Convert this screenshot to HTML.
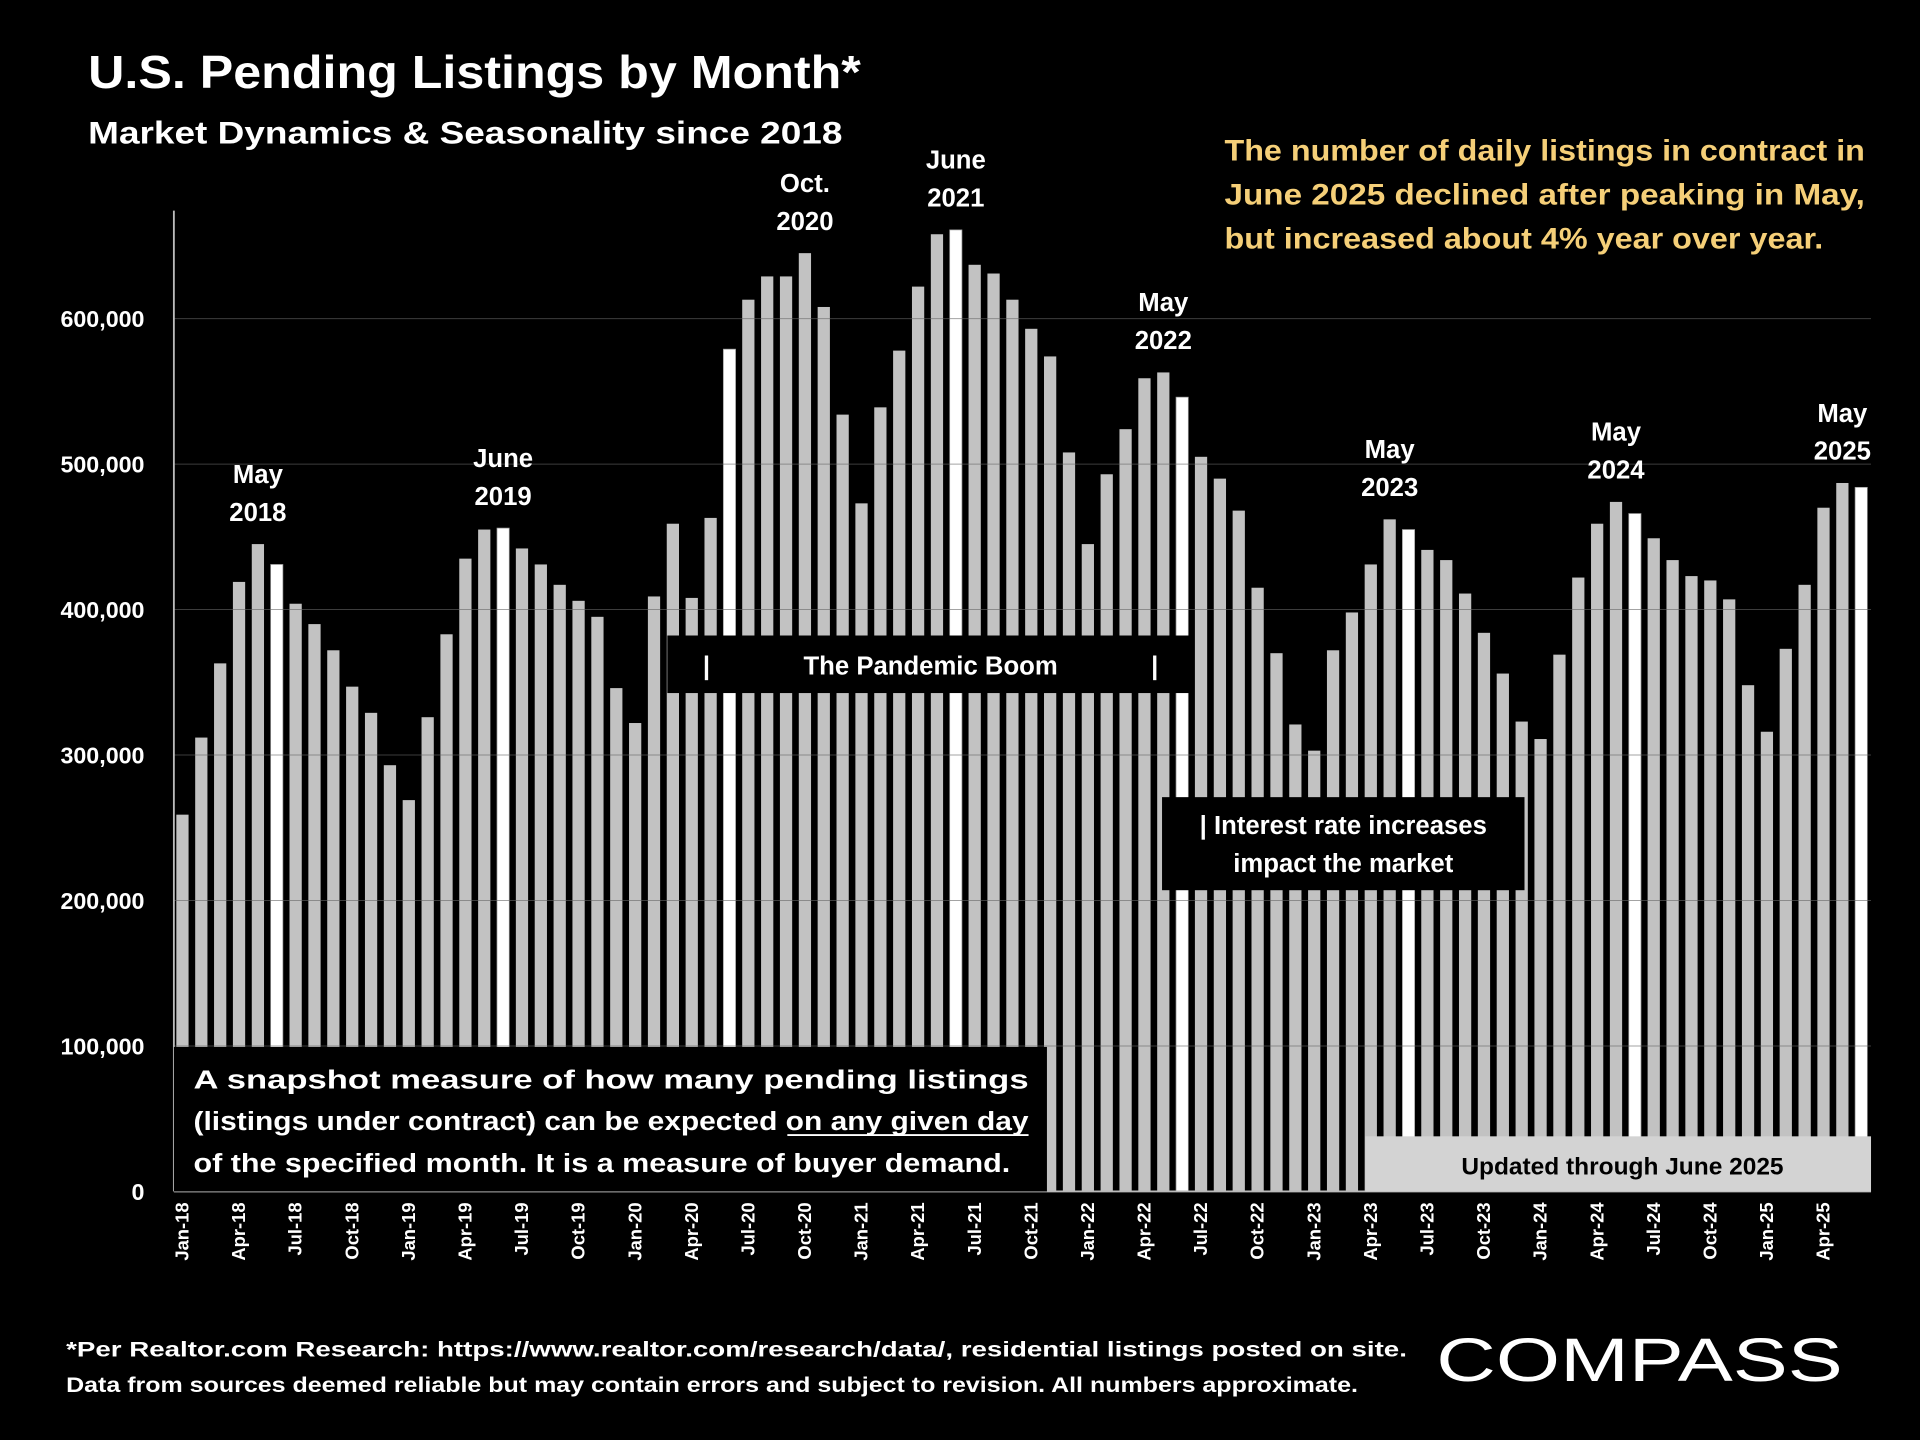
<!DOCTYPE html>
<html><head><meta charset="utf-8"><style>
html,body{margin:0;padding:0;background:#000;}
svg{display:block;font-family:"Liberation Sans",sans-serif;font-weight:bold;}
</style></head><body>
<svg id="chart" width="1920" height="1440" viewBox="0 0 1568 1176" xmlns="http://www.w3.org/2000/svg">
<rect width="1568" height="1176" fill="#000"/>
<text x="72" y="72" fill="#fff" font-size="38" textLength="631" lengthAdjust="spacingAndGlyphs">U.S. Pending Listings by Month*</text>
<text x="72" y="117" fill="#fff" font-size="26" textLength="616" lengthAdjust="spacingAndGlyphs">Market Dynamics &amp; Seasonality since 2018</text>
<g fill="#f5cf78" font-size="24">
<text x="1000" y="131" textLength="523" lengthAdjust="spacingAndGlyphs">The number of daily listings in contract in</text>
<text x="1000" y="167" textLength="523" lengthAdjust="spacingAndGlyphs">June 2025 declined after peaking in May,</text>
<text x="1000" y="203" textLength="489" lengthAdjust="spacingAndGlyphs">but increased about 4% year over year.</text>
</g>
<g id="bars"></g><g id="grid"></g><g id="ylabels"></g><g id="xlabels"></g>
<line x1="142" y1="172" x2="142" y2="973" stroke="#bbb" stroke-width="1.5"/>
<line x1="142" y1="973" x2="1528" y2="973" stroke="#bbb" stroke-width="1.5"/>
<g>
<rect x="545" y="519" width="428" height="47" fill="#000"/>
<text x="760" y="551" fill="#fff" font-size="21" text-anchor="middle">The Pandemic Boom</text>
<text x="577" y="551" fill="#fff" font-size="21" text-anchor="middle">|</text>
<text x="943" y="551" fill="#fff" font-size="21" text-anchor="middle">|</text>
</g>
<g>
<rect x="949" y="651" width="296" height="76" fill="#000"/>
<text x="1097" y="681" fill="#fff" font-size="21" text-anchor="middle">| Interest rate increases</text>
<text x="1097" y="712" fill="#fff" font-size="21" text-anchor="middle">impact the market</text>
</g>
<g>
<rect x="1115" y="928" width="413" height="45" fill="#d3d3d3"/>
<text x="1325" y="959" fill="#000" font-size="20" text-anchor="middle">Updated through June 2025</text>
</g>
<g>
<rect x="142" y="855" width="713" height="118" fill="#000"/>
<text x="158" y="889" fill="#fff" font-size="21" textLength="682" lengthAdjust="spacingAndGlyphs">A snapshot measure of how many pending listings</text>
<text x="158" y="923" fill="#fff" font-size="21" textLength="682" lengthAdjust="spacingAndGlyphs">(listings under contract) can be expected on any given day</text>
<line x1="643" y1="927" x2="840" y2="927" stroke="#fff" stroke-width="1.5"/>
<text x="158" y="957" fill="#fff" font-size="21" textLength="667" lengthAdjust="spacingAndGlyphs">of the specified month. It is a measure of buyer demand.</text>
</g>
<g id="annots" fill="#fff" font-size="21" text-anchor="middle"></g>
<g fill="#fff" font-size="17">
<text x="54" y="1108" textLength="1095" lengthAdjust="spacingAndGlyphs">*Per Realtor.com Research:  https://www.realtor.com/research/data/, residential listings posted on site.</text>
<text x="54" y="1137" textLength="1055" lengthAdjust="spacingAndGlyphs">Data from sources deemed reliable but may contain errors and subject to revision. All numbers approximate.</text>
</g>
<text x="1173" y="1128" fill="#fff" font-size="50" font-weight="normal" textLength="332" lengthAdjust="spacingAndGlyphs">COMPASS</text>
</svg>
<script>
const months = ["Jan","Feb","Mar","Apr","May","Jun","Jul","Aug","Sep","Oct","Nov","Dec"];
const values = [259,312,363,419,445,431,404,390,372,347,329,293,
269,326,383,435,455,456,442,431,417,406,395,346,
322,409,459,408,463,579,613,629,629,645,608,534,
473,539,578,622,658,661,637,631,613,593,574,508,
445,493,524,559,563,546,505,490,468,415,370,321,
303,372,398,431,462,455,441,434,411,384,356,323,
311,369,422,459,474,466,449,434,423,420,407,348,
316,373,417,470,487,484];
const yTicks = [0,100,200,300,400,500,600];
const annotations = [["May","2018",4],["June","2019",17],["Oct.","2020",33],["June","2021",41],["May","2022",52],["May","2023",64],["May","2024",76],["May","2025",88]];
const NS="http://www.w3.org/2000/svg";
const y0=973, pxPer=118.8/100, x0=149, step=(1520-149)/89;
const Y=v=>y0-v*pxPer, X=i=>x0+i*step;
function mk(t,a,p){const e=document.createElementNS(NS,t);for(const k in a)e.setAttribute(k,a[k]);document.getElementById(p).appendChild(e);return e;}
yTicks.forEach(t=>{
 if(t>0){const l=mk("line",{x1:142,x2:1528,y1:Y(t),y2:Y(t),stroke:"#666","stroke-width":0.8,"stroke-opacity":0.6},"grid");
 
 }
 const tx=mk("text",{x:118,y:Y(t)+7,fill:"#fff","font-size":19,"text-anchor":"end"},"ylabels");
 tx.textContent=t===0?"0":(t+",000");
 
 
});
values.forEach((v,i)=>{
 const june=i%12===5;
 const r=mk("rect",{x:X(i)-5,y:Y(v),width:10,height:v*pxPer,fill:june?"#fff":"#c2c2c2",stroke:june?"#999":"none","stroke-width":0.6},"bars");
 
 
 if(i%3===0){
  const tx=mk("text",{x:0,y:0,fill:"#fff","font-size":15,"text-anchor":"end",transform:`translate(${X(i)+5},982) rotate(-90)`},"xlabels");
  tx.textContent=months[i%12]+"-"+String(18+Math.floor(i/12));
  
  
 }
});
annotations.forEach(a=>{
 const top=values[a[2]];
 const cx=X(a[2]);
 const t1=mk("text",{x:cx,y:Y(top)-50,"font-size":21},"annots");t1.textContent=a[0];
 
 
 const t2=mk("text",{x:cx,y:Y(top)-19,"font-size":21},"annots");t2.textContent=a[1];
 
 
});
</script>
</body></html>
